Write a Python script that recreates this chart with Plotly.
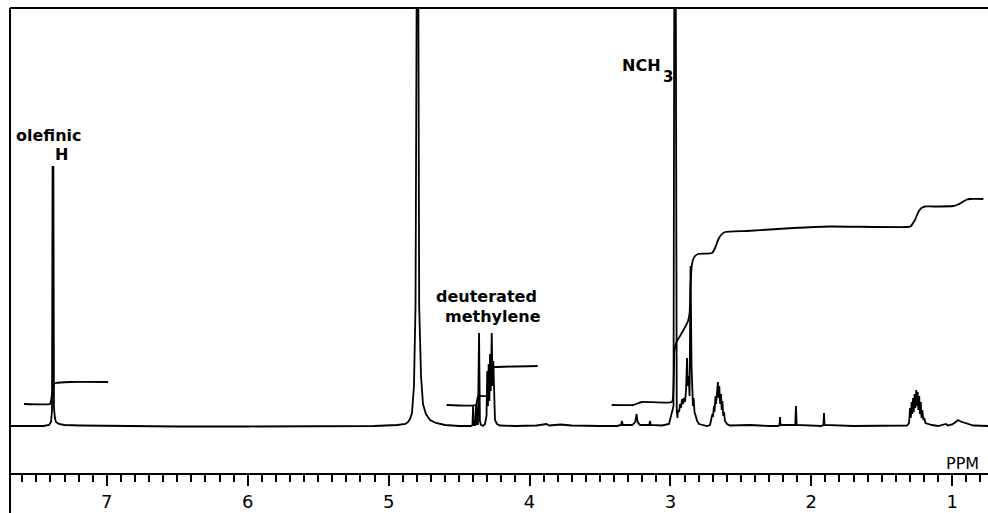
import plotly.graph_objects as go

# ---- spectrum trace (ppm, intensity above baseline) ----
spec_ppm = [7.687, 7.450, 7.410, 7.396, 7.389, 7.385, 7.379, 7.375, 7.368, 7.361, 7.340, 7.300, 7.190, 6.900,
            6.500, 6.000, 5.500, 5.100, 4.940, 4.880, 4.862, 4.848, 4.834, 4.820, 4.809, 4.798, 4.794, 4.783,
            4.770, 4.756, 4.735, 4.706, 4.664, 4.600, 4.500, 4.415, 4.405, 4.400, 4.396, 4.385, 4.379, 4.374,
            4.366, 4.358, 4.352, 4.344, 4.330, 4.316, 4.305, 4.300, 4.295, 4.290, 4.285, 4.280, 4.275, 4.268,
            4.262, 4.257, 4.251, 4.245, 4.231, 4.209, 4.100, 3.950, 3.880, 3.860, 3.780, 3.700, 3.500, 3.380,
            3.350, 3.344, 3.338, 3.270, 3.250, 3.240, 3.233, 3.215, 3.150, 3.145, 3.140, 3.060, 3.010, 2.995,
            2.978, 2.969, 2.966, 2.955, 2.950, 2.946, 2.938, 2.932, 2.925, 2.918, 2.910, 2.903, 2.896, 2.889,
            2.882, 2.877, 2.870, 2.864, 2.857, 2.850, 2.845, 2.840, 2.835, 2.829, 2.820, 2.811, 2.797, 2.776,
            2.740, 2.719, 2.710, 2.702, 2.698, 2.691, 2.687, 2.680, 2.676, 2.669, 2.663, 2.658, 2.653, 2.647,
            2.641, 2.636, 2.631, 2.625, 2.619, 2.613, 2.598, 2.577, 2.435, 2.300, 2.236, 2.226, 2.222, 2.218,
            2.130, 2.114, 2.109, 2.104, 1.930, 1.914, 1.910, 1.906, 1.700, 1.400, 1.320, 1.306, 1.299, 1.294,
            1.288, 1.283, 1.278, 1.273, 1.267, 1.262, 1.255, 1.250, 1.245, 1.240, 1.234, 1.229, 1.223, 1.218,
            1.212, 1.205, 1.198, 1.190, 1.172, 1.144, 1.100, 1.058, 1.045, 1.030, 1.000, 0.975, 0.959, 0.940,
            0.910, 0.880, 0.850, 0.746]
spec_int = [0, 0, 1, 4, 15, 259, 259, 18, 8, 4, 2, 1, 0.5, 0,
            -0.5, -0.5, -0.5, 0, 1, 2, 4, 7, 13, 40, 120, 700, 700, 120,
            50, 22, 12, 6, 3, 1, 0, 0, 1, 20, 1, 1, 22, 2,
            2, 93, 5, 1, 0, 2, 10, 55, 20, 62, 25, 72, 35, 93,
            40, 65, 18, 6, 2, 0.5, 0, 0.5, 2, 0.5, 1.5, 0.5, 0, 0,
            1, 5, 1, 1, 4, 12, 4, 1, 1, 5, 1, 0.5, 2, 10,
            20, 700, 700, 15, 8, 16, 14, 22, 18, 27, 22, 28, 24, 36,
            68, 40, 50, 30, 160, 60, 28, 20, 28, 14, 10, 5, 2, 1,
            0, 1, 6, 12, 9, 20, 14, 30, 22, 36, 44, 28, 40, 22,
            32, 16, 25, 10, 14, 5, 2, 0.5, 1, 0, 0, 1, 9, 1,
            0.5, 1, 20, 1, 0, 1, 13, 1, 0, 0, 0.5, 3, 18, 8,
            24, 12, 28, 14, 32, 18, 36, 20, 34, 16, 30, 12, 24, 8,
            16, 6, 8, 3, 2, 1, 0, 1, 2, 0.5, 1.5, 4, 6, 4.5,
            3, 1.5, 0.5, 0]

# ---- integral traces ----
int1_ppm = [7.588, 7.403, 7.396, 7.389, 7.382, 7.375, 7.361, 7.261, 6.991]
int1_val = [22, 22, 25, 32, 38, 42, 43, 44, 44]

int2_ppm = [4.588, 4.380, 4.369, 4.358, 4.302, 4.295, 4.284, 4.273, 4.245, 3.942]
int2_val = [21, 21, 28, 30, 30, 40, 52, 58, 59, 60]

int3_ppm = [3.417, 3.263, 3.204, 2.989, 2.978, 2.971, 2.960, 2.932, 2.903, 2.875, 2.864, 2.857, 2.850,
            2.840, 2.825, 2.804, 2.705, 2.683, 2.662, 2.641, 2.612, 2.458, 2.128, 1.867, 1.314, 1.292,
            1.278, 1.264, 1.250, 1.236, 1.218, 1.193, 1.134, 0.992, 0.959, 0.921, 0.895, 0.874, 0.779]
int3_val = [21, 21, 24, 24, 40, 75, 83, 90, 97, 105, 113, 140, 158,
            166, 170, 172, 173, 178, 186, 191, 194, 195, 198, 199.5, 199, 200,
            203, 206, 211, 215, 218, 219.5, 219.5, 220, 221.5, 224.5, 226.5, 227, 227]

# ---- axis / labels ----
x_range = [7.687, 0.746]
y_range = [-47, 418]
tick_vals = [1, 2, 3, 4, 5, 6, 7]
tick_text = ["1", "2", "3", "4", "5", "6", "7"]

labels = [
    ("olefinic", 7.407, 291, 16),
    ("H", 7.325, 272, 16),
    ("deuterated", 4.306, 130, 16),
    ("methylene", 4.262, 110, 16),
    ("NCH", 3.202, 361, 16),
    ("3", 3.020, 349, 15),
]

fig = go.Figure()
fig.add_trace(go.Scatter(x=spec_ppm, y=spec_int, mode="lines",
                         line=dict(color="black", width=1.8), hoverinfo="skip"))
for xs, ys in [(int1_ppm, int1_val), (int2_ppm, int2_val), (int3_ppm, int3_val)]:
    fig.add_trace(go.Scatter(x=xs, y=ys, mode="lines",
                             line=dict(color="black", width=1.8, shape="spline", smoothing=0.4),
                             hoverinfo="skip"))

for text, xv, yv, fs in labels:
    fig.add_annotation(x=xv, y=yv, text=text, showarrow=False, xanchor="center", yanchor="middle",
                       font=dict(family="DejaVu Sans", size=fs, color="black", weight="bold"))

fig.add_annotation(x=0.93, y=-37, text="PPM", showarrow=False, xanchor="center", yanchor="middle",
                   font=dict(family="DejaVu Sans", size=16, color="black"))

fig.update_layout(
    width=988, height=513,
    margin=dict(l=10, r=0, t=8, b=40),
    paper_bgcolor="white", plot_bgcolor="white",
    showlegend=False,
    xaxis=dict(range=x_range, showgrid=False, zeroline=False,
               showline=True, linecolor="black", linewidth=2,
               tickmode="array", tickvals=tick_vals, ticktext=tick_text,
               ticks="outside", ticklen=11, tickwidth=2, tickcolor="black",
               tickfont=dict(family="DejaVu Sans", size=18, color="black"),
               minor=dict(dtick=0.1, tick0=0, ticks="outside", ticklen=7, tickwidth=2,
                          tickcolor="black", showgrid=False)),
    yaxis=dict(range=y_range, visible=False, showgrid=False, zeroline=False),
    shapes=[
        dict(type="line", xref="paper", yref="paper", x0=0, x1=1, y0=1, y1=1,
             line=dict(color="black", width=2)),
        dict(type="line", xref="paper", yref="paper", x0=0, x1=0, y0=1, y1=-40 / 465,
             line=dict(color="black", width=2)),
    ],
)

fig.write_html("out.html")
